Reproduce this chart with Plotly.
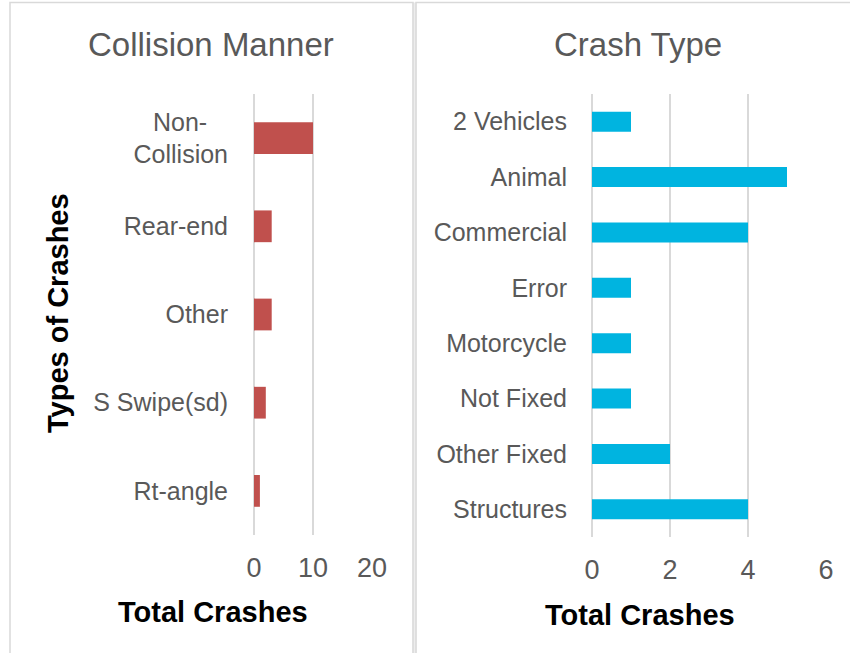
import plotly.graph_objects as go

W, H = 850, 653

collision_cats = ["Non-Collision", "Rear-end", "Other", "S Swipe(sd)", "Rt-angle"]
collision_vals = [10, 3, 3, 2, 1]
collision_ticks = [0, 10, 20]

crash_cats = ["2 Vehicles", "Animal", "Commercial", "Error", "Motorcycle",
              "Not Fixed", "Other Fixed", "Structures"]
crash_vals = [1, 5, 4, 1, 1, 1, 2, 4]
crash_ticks = [0, 2, 4, 6]

FONT = "Liberation Sans"
GREY = "#595959"
GRID = "#D9D9D9"


def px(x):
    return x / W


def py(y):
    return 1 - y / H


collision_text = ["Non-\u00a0\u00a0\u00a0<br>Collision" if c == "Non-Collision" else c
                  for c in collision_cats]

fig = go.Figure()
fig.add_trace(go.Bar(x=collision_vals, y=collision_cats, orientation="h",
                     marker=dict(color="#C0504D", line=dict(width=0)),
                     xaxis="x", yaxis="y", hoverinfo="x+y"))
fig.add_trace(go.Bar(x=crash_vals, y=crash_cats, orientation="h",
                     marker=dict(color="#00B4E0", line=dict(width=0)),
                     xaxis="x2", yaxis="y2", hoverinfo="x+y"))

tickfont = dict(family=FONT, size=25, color=GREY)

fig.update_layout(
    template="none",
    width=W, height=H, autosize=False,
    margin=dict(l=0, r=0, t=0, b=0, pad=0, autoexpand=False),
    paper_bgcolor="white", plot_bgcolor="white",
    showlegend=False,
    bargap=0.64,
    xaxis=dict(domain=[px(254), px(372)], range=[0, 20], tickvals=collision_ticks,
               showgrid=True, gridcolor=GRID, gridwidth=2, zeroline=True,
               zerolinecolor=GRID, zerolinewidth=2, showline=False, ticks="",
               tickfont=dict(family=FONT, size=27, color=GREY), automargin=False,
               ticklabelstandoff=14, anchor="y", fixedrange=True),
    yaxis=dict(domain=[py(535), py(94)], categoryorder="array",
               categoryarray=collision_cats,
               tickvals=collision_cats, ticktext=collision_text,
               autorange="reversed", showgrid=False, showline=False, ticks="",
               zeroline=False, automargin=False,
               tickfont=tickfont, ticklabelstandoff=25, anchor="x",
               fixedrange=True),
    xaxis2=dict(domain=[px(592), px(826)], range=[0, 6], tickvals=crash_ticks,
                showgrid=True, gridcolor=GRID, gridwidth=2, zeroline=True,
                zerolinecolor=GRID, zerolinewidth=2, showline=False, ticks="",
                tickfont=dict(family=FONT, size=27, color=GREY), automargin=False,
                ticklabelstandoff=14, anchor="y2", fixedrange=True),
    yaxis2=dict(domain=[py(537), py(94)], categoryorder="array",
                categoryarray=crash_cats,
                autorange="reversed", showgrid=False, showline=False, ticks="",
                zeroline=False, automargin=False,
                tickfont=tickfont, ticklabelstandoff=24, anchor="x2",
                fixedrange=True),
    shapes=[
        dict(type="rect", xref="paper", yref="paper", x0=px(412.5), x1=px(416.5),
             y0=py(670), y1=py(2.5), fillcolor="#EDEDED", line=dict(width=0),
             layer="below"),
        dict(type="rect", xref="paper", yref="paper", x0=px(10), x1=px(413),
             y0=py(670), y1=py(2.5), line=dict(color=GRID, width=1.5), layer="below"),
        dict(type="rect", xref="paper", yref="paper", x0=px(416), x1=px(870),
             y0=py(670), y1=py(2.5), line=dict(color=GRID, width=1.5), layer="below"),
    ],
    annotations=[
        dict(text="Collision Manner", x=px(211), y=py(44), xref="paper", yref="paper",
             showarrow=False, xanchor="center", yanchor="middle",
             font=dict(family=FONT, size=33, color=GREY)),
        dict(text="Crash Type", x=px(638), y=py(44), xref="paper", yref="paper",
             showarrow=False, xanchor="center", yanchor="middle",
             font=dict(family=FONT, size=33, color=GREY)),
        dict(text="<b>Total Crashes</b>", x=px(213), y=py(612), xref="paper",
             yref="paper", showarrow=False, xanchor="center", yanchor="middle",
             font=dict(family=FONT, size=29, color="black")),
        dict(text="<b>Total Crashes</b>", x=px(640), y=py(615), xref="paper",
             yref="paper", showarrow=False, xanchor="center", yanchor="middle",
             font=dict(family=FONT, size=29, color="black")),
        dict(text="<b>Types of Crashes</b>", x=px(58), y=py(313), xref="paper",
             yref="paper", showarrow=False, xanchor="center", yanchor="middle",
             textangle=-90, font=dict(family=FONT, size=29, color="black")),
    ],
)

fig.write_html("out.html", config={"responsive": False, "displayModeBar": False},
               post_script="document.body.style.margin='0';"
                           "document.body.style.overflow='hidden';")
